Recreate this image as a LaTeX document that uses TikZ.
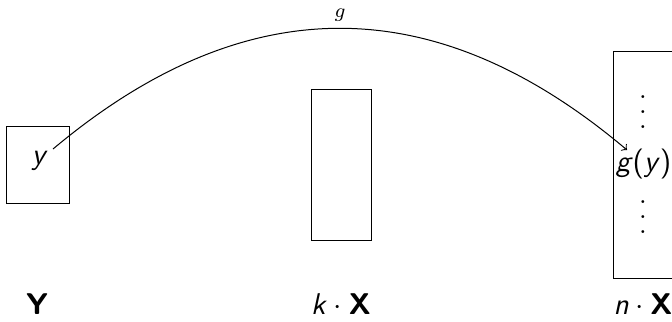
\documentclass[tikz,border=0pt]{standalone}
\newcommand\myvdots{\vbox{\baselineskip=6pt\lineskiplimit=0pt\hbox{.}\hbox{.}\hbox{.}}}
\begin{document}
\begin{tikzpicture}[x=0.4pt,y=-0.4pt,
  box/.style={draw,line width=0.4pt,inner sep=0pt},
  lbl/.style={font=\large\sffamily,inner sep=0pt,anchor=base},
  dots/.style={inner sep=0pt,font=\large},
  arc/.style={-to,line width=0.4pt}]
\useasboundingbox (0,0) rectangle (672,321);
\begin{scope}
\clip (0,0) rectangle (672,321);
\node[box,minimum width=24.8pt,minimum height=30.8pt] (Ybox) at (38,164.5) {};
\node[box,minimum width=24pt,minimum height=60.4pt] (kbox) at (341,164.5) {};
\node[box,minimum width=24pt,minimum height=90.8pt] (nbox) at (643,164.5) {};
\node[font=\large\sffamily\itshape,inner sep=0pt] (y) at (38.5,161) {y};
\node[font=\large\sffamily,inner sep=0pt] (gy) at (643.5,164) {\textit{g}(\textit{y})};
\node[dots] (d1) at (643,112) {\myvdots};
\node[dots] (d2) at (643,217) {\myvdots};
\node[lbl] (Yl) at (37,314) {\bfseries Y};
\node[lbl] (kl) at (341,314) {\textit{k}${}\cdot{}$\textbf{X}};
\node[lbl] (nl) at (643,314) {\textit{n}${}\cdot{}$\textbf{X}};
\coordinate (s) at (53,149);
\coordinate (e) at (627,150);
\draw[arc] (s) .. controls (245,-12) and (435,-12) .. (e)
  node[pos=0.5,above=2.5pt,inner sep=0pt,font=\footnotesize] (g) {$g$};
\end{scope}
\end{tikzpicture}
\end{document}
